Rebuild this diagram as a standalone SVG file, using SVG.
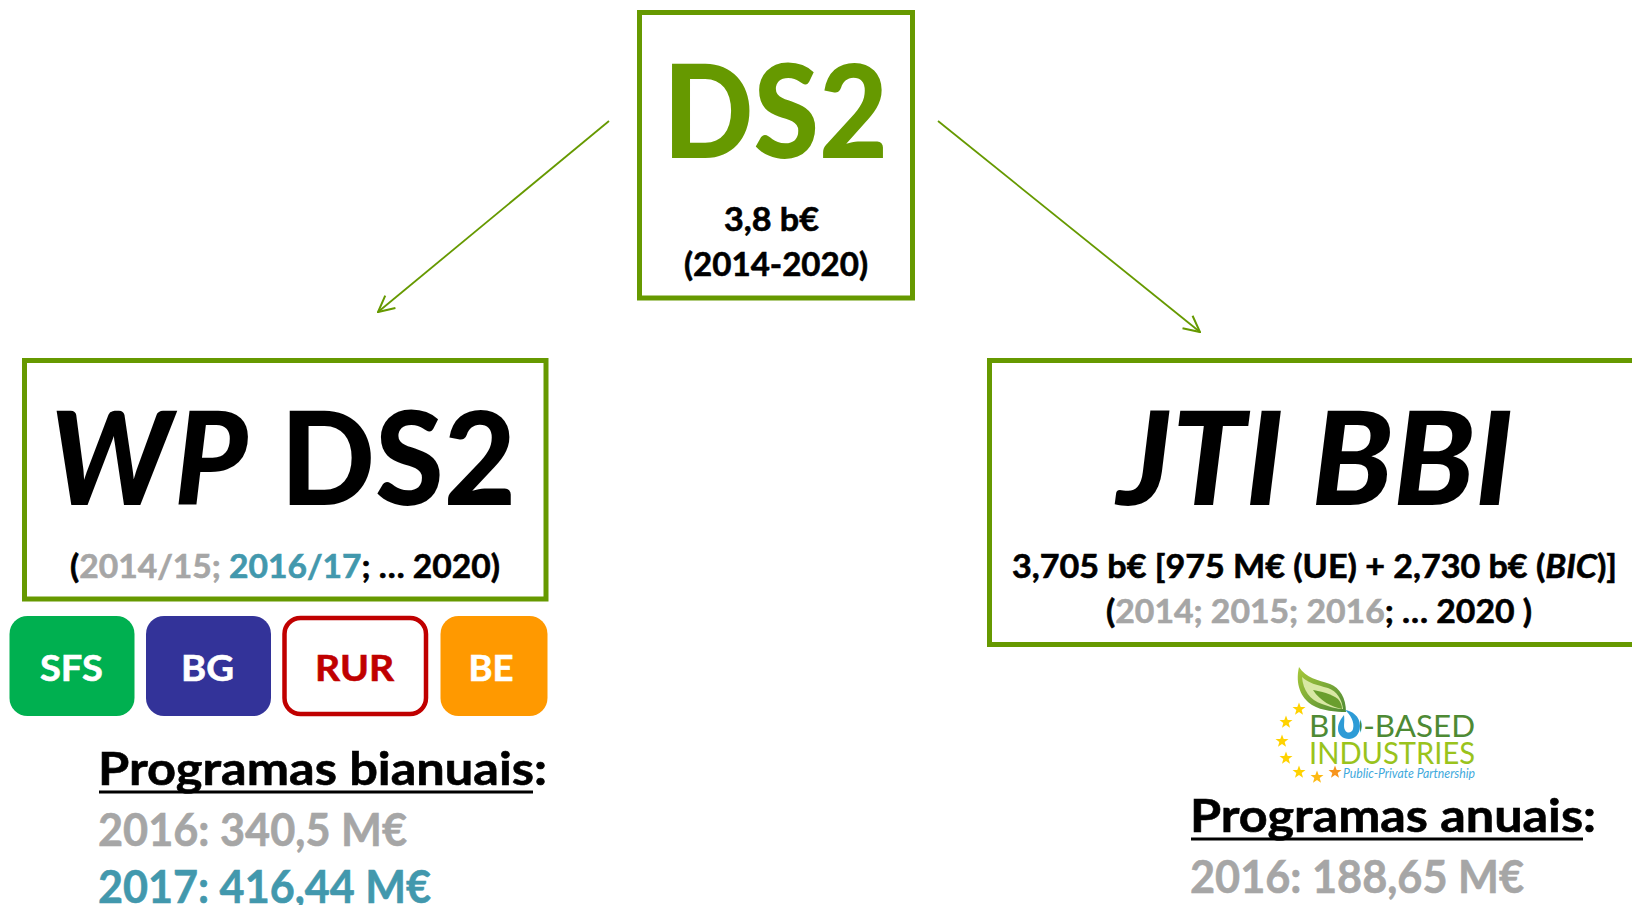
<svg xmlns="http://www.w3.org/2000/svg" width="1632" height="905" viewBox="0 0 1632 905">
<defs>
<marker id="arr" viewBox="0 0 20 20" refX="19" refY="10" markerWidth="20" markerHeight="20" markerUnits="userSpaceOnUse" orient="auto"><path d="M3 2L19 10L3 18" fill="none" stroke="#669900" stroke-width="2"/></marker>
<polygon id="star" points="0,-6.5 1.7,-2 6.5,-2 2.7,1 4,5.8 0,3 -4,5.8 -2.7,1 -6.5,-2 -1.7,-2"/>
<linearGradient id="leaf" x1="0" y1="0" x2="1" y2="1"><stop offset="0" stop-color="#a8c93a"/><stop offset="1" stop-color="#4f8a35"/></linearGradient>
</defs>
<style>
text{font-family:"Lato","Liberation Sans",sans-serif;font-weight:700;stroke-width:.6;}
.box{fill:#fff;stroke:#669900;stroke-width:5;}
.pill{stroke:none;}
.w{fill:#fff;stroke:#fff;font-size:37px;}
.k{fill:#000;stroke:#000;font-size:33px;}
.h{font-size:130px;fill:#000;font-weight:900;stroke-width:0;}
.p{font-size:46px;fill:#000;stroke:#000;}
.g{fill:#a6a6a6;stroke:#a6a6a6;}
.t{fill:#4298ad;stroke:#4298ad;}
.r{fill:#c00000;stroke:#c00000;}
.l{stroke:none;}
.conn{fill:none;stroke:#669900;stroke-width:1.8;marker-end:url(#arr);}
</style>
<rect width="1632" height="905" fill="#fff"/>
<g id="connectors">
<line class="conn" x1="609" y1="121" x2="378" y2="312"/>
<line class="conn" x1="938" y1="121" x2="1200" y2="332"/>
</g>
<g id="node-ds2">
<rect class="box" x="639.5" y="12.5" width="273" height="285.500"/>
<text class="h" x="663" y="158" style="fill:#669900" textLength="225" lengthAdjust="spacingAndGlyphs">DS2</text>
<text class="k" x="724" y="231" textLength="95" lengthAdjust="spacingAndGlyphs">3,8 b€</text>
<text class="k" x="684" y="276" textLength="184" lengthAdjust="spacingAndGlyphs">(2014-2020)</text>
</g>
<g id="node-wp">
<rect class="box" x="24.5" y="360.5" width="521.500" height="238.500"/>
<text class="h" x="50" y="505" textLength="466" lengthAdjust="spacingAndGlyphs"><tspan font-style="italic" letter-spacing="3">WP</tspan> DS2</text>
<text class="k" x="70" y="578" textLength="430" lengthAdjust="spacingAndGlyphs">(<tspan class="g">2014/15;</tspan> <tspan class="t">2016/17</tspan>; … 2020)</text>
</g>
<g id="node-sfs"><rect class="pill" x="9.5" y="616" width="125" height="100" rx="18" fill="#00b050"/><text class="w" x="40" y="681" textLength="63" lengthAdjust="spacingAndGlyphs">SFS</text></g>
<g id="node-bg"><rect class="pill" x="146" y="616" width="125" height="100" rx="18" fill="#333399"/><text class="w" x="181" y="681" textLength="53" lengthAdjust="spacingAndGlyphs">BG</text></g>
<g id="node-rur"><rect x="284.500" y="618" width="141.500" height="96" rx="16" fill="#fff" stroke="#c00000" stroke-width="4.500"/><text class="w r" x="315" y="681" textLength="79" lengthAdjust="spacingAndGlyphs">RUR</text></g>
<g id="node-be"><rect class="pill" x="440.500" y="616" width="107" height="100" rx="18" fill="#ff9900"/><text class="w" x="468.500" y="681" textLength="45" lengthAdjust="spacingAndGlyphs">BE</text></g>
<g id="programas-bianuais">
<text class="p" x="98" y="785" textLength="449" lengthAdjust="spacingAndGlyphs">Programas bianuais:</text>
<rect x="99" y="790.500" width="434" height="3"/>
<text class="p g" x="98" y="846" textLength="309" lengthAdjust="spacingAndGlyphs">2016: 340,5 M€</text>
<text class="p t" x="98" y="903" textLength="333" lengthAdjust="spacingAndGlyphs">2017: 416,44 M€</text>
</g>
<g id="node-jti">
<rect class="box" x="989.500" y="360.5" width="650" height="284"/>
<text class="h" x="1117" y="505" font-style="italic" textLength="396" lengthAdjust="spacingAndGlyphs">JTI BBI</text>
<text class="k" x="1012" y="578" textLength="605" lengthAdjust="spacingAndGlyphs">3,705 b€ [975 M€ (UE) + 2,730 b€ (<tspan font-style="italic">BIC</tspan>)]</text>
<text class="k" x="1106" y="623" textLength="426" lengthAdjust="spacingAndGlyphs">(<tspan class="g">2014; 2015; 2016</tspan>; … 2020 )</text>
</g>
<g id="logo">
<path d="M1299 667C1306 678 1318 680 1330 684C1340 688 1346 698 1346 712C1336 712 1322 711 1312 705C1301 698 1295 684 1299 667Z" fill="url(#leaf)"/>
<path d="M1302 677C1303 690 1310 700 1322 704C1330 707 1338 709 1343 709C1342 700 1337 691 1328 688C1317 685 1308 683 1302 677Z" fill="#d9e8a4"/>
<path d="M1313 690C1320 691 1332 694 1338 699C1341 702 1342 706 1342 709C1332 707 1320 701 1313 690Z" fill="#6a9e2e"/>
<g fill="#ffd200">
<use href="#star" x="1299" y="709"/><use href="#star" x="1286" y="722"/><use href="#star" x="1282" y="741"/><use href="#star" x="1286" y="758"/><use href="#star" x="1299" y="772"/><use href="#star" x="1317" y="777" fill="#fdb913"/><use href="#star" x="1335" y="772" fill="#f7941d"/>
</g>
<text class="l" x="1309" y="737" style="font-weight:400" font-size="31" fill="#4e8a34" textLength="166" lengthAdjust="spacingAndGlyphs">BIO-BASED</text>
<rect x="1338" y="712" width="22" height="28" fill="#fff"/>
<path d="M1345 710C1352 711 1360 716 1360 726C1360 735 1354 739 1349 739C1343 739 1338 735 1338 729C1338 723 1341 719 1344 715C1345 722 1343 726 1345 730C1347 734 1352 733 1353 729C1355 722 1350 714 1345 710Z" fill="#2e9bd6"/>
<text class="l" x="1309" y="764" style="font-weight:400" font-size="31" fill="#9ac31c" textLength="166" lengthAdjust="spacingAndGlyphs">INDUSTRIES</text>
<text class="l" x="1343" y="778" style="font-weight:400" font-size="13.500" font-style="italic" fill="#3fa9dc" textLength="132" lengthAdjust="spacingAndGlyphs">Public-Private Partnership</text>
</g>
<g id="programas-anuais">
<text class="p" x="1190" y="832" textLength="406" lengthAdjust="spacingAndGlyphs">Programas anuais:</text>
<rect x="1191" y="837.500" width="392" height="3"/>
<text class="p g" x="1190" y="893" textLength="334" lengthAdjust="spacingAndGlyphs">2016: 188,65 M€</text>
</g>
</svg>
